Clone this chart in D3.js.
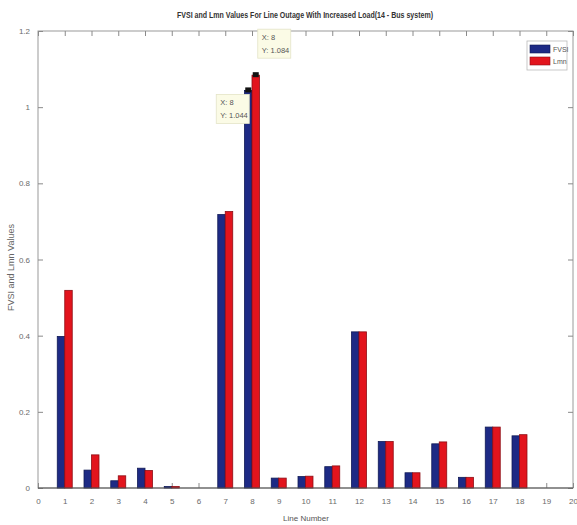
<!DOCTYPE html>
<html>
<head>
<meta charset="utf-8">
<script src="https://cdn.jsdelivr.net/npm/d3@7"></script>
<style>
  html, body { margin: 0; padding: 0; background: #fff; }
  svg { display: block; }
</style>
</head>
<body>
<svg id="chart" width="577" height="525"></svg>
<script>
// Line outage data for the 14-bus system
const lineNumbers = [1, 2, 3, 4, 5, 6, 7, 8, 9, 10, 11, 12, 13, 14, 15, 16, 17, 18, 19];
const fvsiValues = [0.398, 0.047, 0.019, 0.052, 0.004, 0, 0.718, 1.044, 0.026, 0.030, 0.056, 0.410, 0.122, 0.040, 0.116, 0.028, 0.160, 0.137, 0];
const lmnValues  = [0.519, 0.087, 0.032, 0.046, 0.004, 0, 0.726, 1.084, 0.026, 0.031, 0.058, 0.410, 0.122, 0.040, 0.121, 0.028, 0.160, 0.140, 0];
const seriesNames = ["FVSI", "Lmn"];
const xTicks = d3.range(0, 21);
const yTicks = [0, 0.2, 0.4, 0.6, 0.8, 1, 1.2];
const yTickLabels = ["0", "0.2", "0.4", "0.6", "0.8", "1", "1.2"];
// data tips shown on line 8
const tipLines = [8, 8];
const tipSeries = [0, 1];

const svg = d3.select("#chart");
const margin = { left: 38, right: 4, top: 31, bottom: 37 };
const W = 577, H = 525;
const x = d3.scaleLinear().domain([0, 20]).range([margin.left, W - margin.right]);
const y = d3.scaleLinear().domain([0, 1.2]).range([H - margin.bottom, margin.top]);

const colors = ["#1d2a85", "#e2141d"];
const edges = ["#101a55", "#8e0d14"];
const unit = x(1) - x(0);
const barW = unit * 0.28;

// plot frame
const g = svg.append("g");
g.append("rect")
  .attr("x", x(0)).attr("y", y(1.2))
  .attr("width", x(20) - x(0)).attr("height", y(0) - y(1.2))
  .attr("fill", "#fff").attr("stroke", "#9a9a9a").attr("stroke-width", 1);

// axes
const axisStyle = sel => {
  sel.select(".domain").remove();
  sel.selectAll("line").attr("stroke", "#8a8a8a");
  sel.selectAll("text").attr("fill", "#6a6a6a")
    .style("font-family", "'Liberation Sans Narrow', 'Liberation Sans', Arial, sans-serif")
    .style("font-size", "8px");
};
g.append("g").attr("transform", `translate(0,${y(0)})`)
  .call(d3.axisBottom(x).tickValues(xTicks).tickFormat(d3.format("d")).tickSize(-5).tickPadding(10))
  .call(axisStyle);
g.append("g").attr("transform", `translate(0,${y(1.2)})`)
  .call(d3.axisTop(x).tickValues(xTicks).tickSize(-5).tickFormat(""))
  .call(axisStyle);
g.append("g").attr("transform", `translate(${x(0)},0)`)
  .call(d3.axisLeft(y).tickValues(yTicks).tickFormat((d, i) => yTickLabels[i]).tickSize(-5).tickPadding(8))
  .call(axisStyle);
g.append("g").attr("transform", `translate(${x(20)},0)`)
  .call(d3.axisRight(y).tickValues(yTicks).tickSize(-5).tickFormat(""))
  .call(axisStyle);

// bars
[fvsiValues, lmnValues].forEach((vals, s) => {
  g.append("g").selectAll("rect")
    .data(lineNumbers.map((n, i) => ({ n, v: vals[i] })))
    .join("rect")
    .attr("x", d => x(d.n) - barW + s * barW)
    .attr("y", d => y(d.v))
    .attr("width", barW)
    .attr("height", d => y(0) - y(d.v))
    .attr("fill", colors[s])
    .attr("stroke", edges[s])
    .attr("stroke-width", 0.8);
});

// baseline
g.append("line")
  .attr("x1", x(0)).attr("x2", x(20))
  .attr("y1", y(0)).attr("y2", y(0))
  .attr("stroke", "#555").attr("stroke-width", 1.2);

// data tips
const tipOffsets = [[-32, 4], [2, -46]];
tipLines.forEach((ln, k) => {
  const s = tipSeries[k];
  const v = (s === 0 ? fvsiValues : lmnValues)[lineNumbers.indexOf(ln)];
  const cx = x(ln) - barW / 2 + s * barW;
  const cy = y(v);
  g.append("rect")
    .attr("x", cx - 3).attr("y", cy - 3).attr("width", 6).attr("height", 5)
    .attr("fill", "#111");
  const bx = cx + tipOffsets[k][0], by = cy + tipOffsets[k][1];
  const tg = g.append("g").attr("transform", `translate(${bx},${by})`);
  tg.append("rect").attr("width", 33).attr("height", 29)
    .attr("fill", "#fbfbe6").attr("stroke", "#e4e4c8").attr("stroke-width", 0.8);
  const tt = tg.append("text")
    .style("font-family", "'Liberation Sans Narrow', 'Liberation Sans', Arial, sans-serif")
    .style("font-size", "7.5px").attr("fill", "#555");
  tt.append("tspan").attr("x", 4).attr("y", 11).text(`X: ${ln}`);
  tt.append("tspan").attr("x", 4).attr("y", 24).text(`Y: ${v}`);
});

// legend
const lg = svg.append("g").attr("transform", "translate(527,41)");
lg.append("rect").attr("width", 40).attr("height", 29)
  .attr("fill", "#fff").attr("stroke", "#bbb").attr("stroke-width", 0.8);
seriesNames.forEach((name, i) => {
  lg.append("rect").attr("x", 3).attr("y", 4 + i * 12).attr("width", 20).attr("height", 8)
    .attr("fill", colors[i]).attr("stroke", edges[i]).attr("stroke-width", 0.6);
  lg.append("text").attr("x", 26).attr("y", 11 + i * 12)
    .style("font-family", "'Liberation Sans Narrow', 'Liberation Sans', Arial, sans-serif")
    .style("font-size", "7px").attr("fill", "#555").text(name);
});

// title and axis labels
svg.append("text")
  .attr("x", 305).attr("y", 18).attr("text-anchor", "middle")
  .attr("textLength", 256).attr("lengthAdjust", "spacingAndGlyphs")
  .style("font-family", "'Liberation Sans Narrow', 'Liberation Sans', Arial, sans-serif")
  .style("font-size", "9px").style("font-weight", "bold").attr("fill", "#333")
  .text("FVSI and Lmn Values For Line Outage With Increased Load(14 - Bus system)");

svg.append("text")
  .attr("x", 306).attr("y", 521).attr("text-anchor", "middle")
  .style("font-family", "'Liberation Sans Narrow', 'Liberation Sans', Arial, sans-serif")
  .style("font-size", "8px").attr("fill", "#555")
  .text("Line Number");

svg.append("text")
  .attr("transform", `translate(14,${(y(0) + y(1.2)) / 2 + 8}) rotate(-90)`)
  .attr("text-anchor", "middle")
  .style("font-family", "'Liberation Sans', Arial, sans-serif")
  .style("font-size", "9px").attr("fill", "#666")
  .text("FVSI and Lmn Values");
</script>
</body>
</html>
